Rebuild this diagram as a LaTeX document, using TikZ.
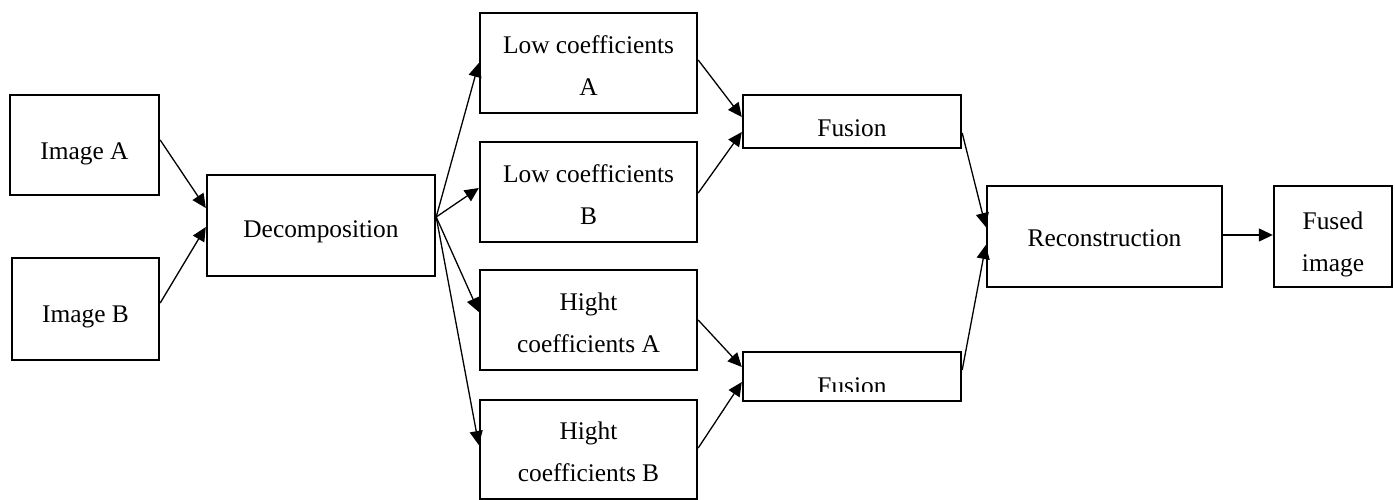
\documentclass[tikz,border=0pt]{standalone}
\usepackage{fontspec}
\setmainfont{Liberation Serif}
\usetikzlibrary{arrows.meta}
\newcommand\dtext[2]{\raisebox{-#1}[\height][\depth]{\begin{tabular}{@{}c@{}}#2\end{tabular}}}
\begin{document}
\begin{tikzpicture}[x=1pt,y=-1pt,
  box/.style={draw=black,line width=2.4pt,inner sep=0pt,
    font=\fontsize{25.4}{42}\selectfont},
  conn/.style={line width=1.3pt,-{Triangle[length=14pt,width=13pt]}}]
\useasboundingbox (0,0) rectangle (1395,500);
\node[box,minimum width=149,minimum height=100] (imgA) at (84.5,145) {\dtext{6pt}{Image A}};
\node[box,minimum width=147,minimum height=102] (imgB) at (85.5,309) {\dtext{5pt}{Image B}};
\node[box,minimum width=228,minimum height=101] (dec) at (321,225.5) {\dtext{4pt}{Decomposition}};
\node[box,minimum width=217,minimum height=100] (lowA) at (588.5,63) {\dtext{3pt}{Low coefficients\\A}};
\node[box,minimum width=217,minimum height=100] (lowB) at (588.5,192) {\dtext{3.5pt}{Low coefficients\\B}};
\node[box,minimum width=217,minimum height=100] (highA) at (588.5,320) {\dtext{3.5pt}{Hight\\coefficients A}};
\node[box,minimum width=217,minimum height=99] (highB) at (588.5,449.5) {\dtext{3pt}{Hight\\coefficients B}};
\node[box,minimum width=218,minimum height=53] (fus1) at (852,121.5) {\dtext{7pt}{Fusion}};
\node[box,minimum width=218,minimum height=49] (fus2) at (852,376.5) {};
\begin{scope}
  \clip (743,352) rectangle (961,391);
  \node[font=\fontsize{25.4}{30}\selectfont,anchor=base,inner sep=0pt] (fus2txt) at (852,394.5) {Fusion};
\end{scope}
\node[box,minimum width=235,minimum height=101] (rec) at (1104.5,236.5) {\dtext{2pt}{Reconstruction}};
\node[box,minimum width=118,minimum height=101] (fused) at (1333,236.5) {\dtext{6pt}{Fused\\image}};
% connectors
\draw[conn] ([yshift=5pt]imgA.east) -- ([yshift=17.5pt]dec.west);
\draw[conn] ([yshift=6pt]imgB.east) -- ([yshift=-1.5pt]dec.west);
\draw[conn] ([yshift=8.5pt]dec.east) -- (lowA.west);
\draw[conn] ([yshift=8.5pt]dec.east) -- ([yshift=4pt]lowB.west);
\draw[conn] ([yshift=8.5pt]dec.east) -- ([yshift=8pt]highA.west);
\draw[conn] ([yshift=8.5pt]dec.east) -- ([yshift=4.5pt]highB.west);
\draw[conn] ([yshift=3pt]lowA.east) -- ([yshift=4.5pt]fus1.west);
\draw[conn] ([yshift=-1pt]lowB.east) -- ([yshift=-10.5pt]fus1.west);
\draw[conn] (highA.east) -- ([yshift=9.5pt]fus2.west);
\draw[conn] ([yshift=1.5pt]highB.east) -- ([yshift=-5.5pt]fus2.west);
\draw[conn] ([yshift=-11.5pt]fus1.east) -- ([yshift=9.5pt]rec.west);
\draw[conn] ([yshift=6.5pt]fus2.east) -- ([yshift=-8.5pt]rec.west);
\draw[conn] ([yshift=1.5pt]rec.east) -- ([yshift=1.5pt]fused.west);
\end{tikzpicture}
\end{document}
